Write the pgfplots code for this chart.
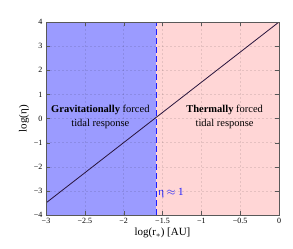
\documentclass[border=0pt]{standalone}
\usepackage{fontspec}
\setmainfont{Liberation Serif}
\usepackage{pgfplots}
\pgfplotsset{compat=1.18}
\definecolor{gravblue}{RGB}{155,155,255}
\definecolor{thermpink}{RGB}{255,214,214}
\definecolor{dashblue}{RGB}{30,30,255}
\definecolor{linecol}{RGB}{40,20,60}
\begin{document}
\begin{tikzpicture}
\begin{axis}[
  scale only axis,
  width=233pt, height=193pt,
  xmin=-3, xmax=0, ymin=-4, ymax=4,
  xtick={-3,-2.5,-2,-1.5,-1,-0.5,0},
  xticklabels={−3,−2.5,−2,−1.5,−1,−0.5,0},
  ytick={-4,-3,-2,-1,0,1,2,3,4},
  yticklabels={−4,−3,−2,−1,0,1,2,3,4},
  tick label style={font=\fontsize{8}{9}\selectfont},
  grid=major,
  grid style={dashed, dash pattern=on 2pt off 2pt, black, opacity=0.1, line width=0.5pt},
  axis on top,
  axis line style={black!65},
  tick style={black!65},
  xlabel={log(r$_*$) [AU]},
  ylabel={log(η)},
  label style={font=\fontsize{11}{12}\selectfont},
  xlabel style={yshift=3pt},
  ylabel style={yshift=-2pt},
]
\addplot[fill=gravblue, draw=none] coordinates {(-3,-4) (-1.58,-4) (-1.58,4) (-3,4)} -- cycle;
\addplot[fill=thermpink, draw=none] coordinates {(-1.58,-4) (0,-4) (0,4) (-1.58,4)} -- cycle;
\addplot[dashblue, line width=1.4pt, dash pattern=on 6pt off 3pt] coordinates {(-1.58,-4) (-1.58,4)};
\addplot[linecol, line width=0.8pt] coordinates {(-3,-3.5) (0,4)};
\node[font=\fontsize{10.5}{13.5}\selectfont, align=center] at (axis cs:-2.3,0.07) {\textbf{Gravitationally} forced\\tidal response};
\node[font=\fontsize{10.5}{13.5}\selectfont, align=center] at (axis cs:-0.7,0.07) {\textbf{Thermally} forced\\tidal response};
\node[font=\fontsize{11}{12}\selectfont, text=dashblue, anchor=west, inner sep=1pt] at (axis cs:-1.57,-3.1) {η $\approx$ 1};
\end{axis}
\path (current axis.south west) ++(-46pt,-33pt) coordinate (bl);
\path (current axis.north east) ++(14pt,22pt) coordinate (tr);
\useasboundingbox (bl) rectangle (tr);
\end{tikzpicture}
\end{document}
